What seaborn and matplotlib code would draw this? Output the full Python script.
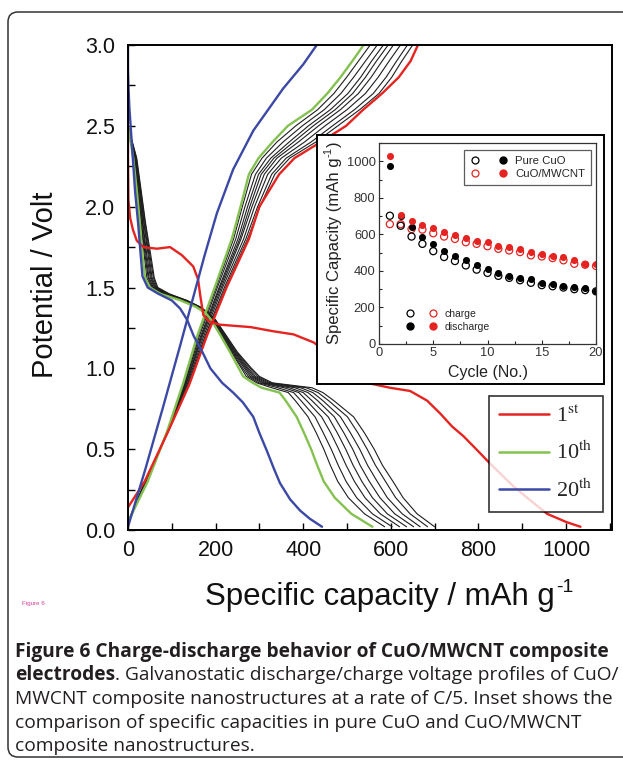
import matplotlib
matplotlib.use("Agg")
import matplotlib.pyplot as plt
import seaborn as sns
from matplotlib.patches import Rectangle, FancyBboxPatch
from matplotlib.lines import Line2D
from matplotlib.text import Annotation
from matplotlib.legend_handler import HandlerTuple
from matplotlib.ticker import MultipleLocator

# ------------------------------------------------------------------ data
# 1st cycle (red)
c1_dis_cap = [0, 0, 1, 5, 11, 20, 35, 66, 96, 123, 149, 160, 165, 172, 185, 210, 280, 330, 378, 424,
              469, 492, 515, 546, 598, 644, 683, 713, 740, 766, 795, 827, 880, 920, 957, 1000, 1033]
c1_dis_v = [2.52, 2.30, 2.04, 1.93, 1.86, 1.79, 1.75, 1.74, 1.75, 1.70, 1.63, 1.55, 1.45, 1.33, 1.29, 1.27,
            1.255, 1.23, 1.21, 1.16, 1.07, 1.01, 0.96, 0.91, 0.88, 0.86, 0.80, 0.72, 0.64, 0.58, 0.50,
            0.41, 0.27, 0.18, 0.10, 0.05, 0.02]
c1_chg_v = [0.14, 0.30, 0.60, 0.90, 1.20, 1.50, 1.80, 2.00, 2.20, 2.30, 2.40, 2.50, 2.60, 2.70, 2.80, 2.90, 3.00]
c1_chg_cap = [0, 38, 90, 140, 180, 225, 276, 300, 345, 380, 440, 498, 537, 580, 618, 645, 662]

# shared potential levels for cycles 2-10
dis_v = [2.50, 2.30, 2.10, 1.90, 1.70, 1.56, 1.50, 1.46, 1.42, 1.38, 1.34, 1.30, 1.20, 1.10,
         1.00, 0.95, 0.91, 0.88, 0.85, 0.80, 0.70, 0.60, 0.50, 0.40, 0.30, 0.20, 0.10, 0.02]
chg_v = [0.05, 0.30, 0.60, 0.90, 1.20, 1.50, 1.80, 2.00, 2.20, 2.30, 2.40, 2.50, 2.60, 2.70, 2.80, 2.90, 3.00]

# 10th cycle (green)
c10_dis_cap = [0, 12, 20, 27, 33, 39, 50, 75, 120, 155, 178, 190, 212, 233,
               253, 263, 285, 305, 346, 360, 385, 402, 418, 432, 447, 472, 510, 558]
c10_chg_cap = [0, 45, 88, 125, 158, 198, 237, 257, 276, 298, 330, 365, 420, 455, 485, 512, 538]

# cycles 2..9 (black)
black_dis_cap = [
    [0, 20, 30, 40, 52, 60, 68, 95, 135, 165, 185, 200, 225, 250, 282, 300, 330, 420, 445, 470, 515, 540, 562, 581, 605, 628, 660, 700],
    [0, 19, 29, 39, 50, 58, 66, 93, 133, 164, 184, 199, 224, 248, 279, 296, 325, 407, 434, 458, 501, 525, 546, 565, 588, 611, 644, 684],
    [0, 18, 28, 37, 48, 55, 64, 90, 132, 163, 183, 198, 222, 246, 275, 291, 320, 394, 422, 445, 485, 508, 529, 547, 569, 592, 626, 667],
    [0, 17, 27, 36, 46, 53, 62, 88, 130, 162, 183, 197, 221, 244, 272, 287, 315, 381, 411, 433, 471, 493, 513, 530, 551, 575, 609, 652],
    [0, 16, 26, 34, 43, 51, 60, 86, 128, 161, 182, 196, 219, 242, 269, 283, 310, 368, 400, 420, 457, 478, 497, 514, 534, 558, 592, 636],
    [0, 16, 24, 33, 41, 48, 58, 84, 127, 159, 181, 194, 218, 240, 266, 279, 305, 356, 390, 408, 442, 463, 481, 498, 517, 541, 576, 620],
    [0, 15, 23, 31, 39, 46, 56, 81, 125, 158, 180, 193, 216, 238, 262, 275, 299, 342, 378, 395, 427, 446, 464, 480, 498, 522, 558, 603],
    [0, 14, 22, 30, 37, 43, 54, 79, 123, 157, 179, 192, 215, 236, 259, 270, 294, 328, 366, 382, 411, 430, 447, 462, 479, 503, 540, 586],
]
black_chg_cap = [
    [0, 39, 90, 139, 178, 223, 273, 301, 335, 369, 429, 479, 529, 573, 602, 625, 650],
    [0, 39, 90, 137, 176, 220, 269, 296, 328, 361, 418, 467, 517, 560, 589, 613, 638],
    [0, 40, 89, 135, 173, 216, 264, 289, 319, 350, 403, 450, 500, 542, 571, 596, 622],
    [0, 41, 89, 133, 170, 213, 258, 283, 311, 340, 389, 435, 485, 526, 555, 580, 606],
    [0, 42, 89, 132, 168, 210, 255, 278, 304, 333, 378, 423, 473, 513, 542, 567, 594],
    [0, 42, 89, 130, 166, 208, 251, 273, 298, 326, 368, 412, 462, 502, 531, 556, 583],
    [0, 43, 88, 129, 163, 204, 246, 267, 291, 316, 354, 398, 448, 486, 515, 542, 569],
    [0, 44, 88, 127, 160, 201, 241, 261, 282, 306, 340, 383, 433, 470, 499, 526, 553],
]

# 20th cycle (blue)
c20_dis_cap = [0, 0, 1, 3, 6, 11, 16, 23, 29, 33, 45, 70, 100, 119, 135, 150, 170, 188, 215, 240,
               262, 286, 300, 317, 333, 347, 370, 393, 415, 443]
c20_dis_v = [3.00, 2.85, 2.75, 2.62, 2.50, 2.30, 2.10, 1.90, 1.70, 1.57, 1.50, 1.46, 1.42, 1.37, 1.30,
             1.20, 1.10, 1.00, 0.91, 0.85, 0.79, 0.70, 0.60, 0.49, 0.38, 0.29, 0.19, 0.12, 0.07, 0.02]
c20_chg_cap = [0, 40, 80, 120, 150, 175, 203, 240, 286, 354, 400, 431]
c20_chg_v = [0.02, 0.38, 0.76, 1.15, 1.45, 1.70, 1.96, 2.23, 2.47, 2.73, 2.88, 3.00]

legend_labels = [r"1$^{\mathrm{st}}$", r"10$^{\mathrm{th}}$", r"20$^{\mathrm{th}}$"]
x_ticks = [0, 200, 400, 600, 800, 1000]
x_tick_labels = ["0", "200", "400", "600", "800", "1000"]
y_ticks = [0.0, 0.5, 1.0, 1.5, 2.0, 2.5, 3.0]
y_tick_labels = ["0.0", "0.5", "1.0", "1.5", "2.0", "2.5", "3.0"]

# inset: specific capacity vs cycle
cycles = list(range(1, 21))
pure_chg = [702, 647, 588, 548, 508, 476, 454, 430, 407, 389, 373, 362, 349, 335, 322, 316, 309, 300, 295, 288]
pure_dis = [973, 700, 638, 588, 548, 508, 479, 458, 430, 412, 389, 373, 362, 353, 336, 327, 320, 313, 304, 291]
mwcnt_chg = [656, 656, 629, 626, 606, 588, 575, 557, 548, 535, 521, 512, 503, 485, 479, 470, 458, 439, 434, 427]
mwcnt_dis = [1027, 705, 671, 651, 635, 615, 599, 580, 562, 557, 535, 530, 521, 505, 490, 481, 474, 458, 439, 439]
inset_series = ["Pure CuO", "CuO/MWCNT"]
inset_kinds = ["charge", "discharge"]

caption_l1 = "Figure 6 Charge-discharge behavior of CuO/MWCNT composite"
caption_l2_bold = "electrodes"
caption_l2 = ". Galvanostatic discharge/charge voltage profiles of CuO/"
caption_l3 = "MWCNT composite nanostructures at a rate of C/5. Inset shows the"
caption_l4 = "comparison of specific capacities in pure CuO and CuO/MWCNT"
caption_l5 = "composite nanostructures."

# ------------------------------------------------------------------ style
sns.set_style("ticks")
plt.rcParams["font.family"] = ["Liberation Sans", "DejaVu Sans"]
plt.rcParams["mathtext.fontset"] = "stix"

RED, GREEN, BLUE, BLACK = "#e52421", "#84c150", "#3b48a5", "#1e1e1e"
TXT = "#111111"

W, H = 623, 761
fig = plt.figure(figsize=(W / 100, H / 100), dpi=100)


def fx(px):
    return px / W


def fy(py):
    return 1 - py / H


# background (pixel coordinates) for frame and caption
bg = fig.add_axes([0, 0, 1, 1], zorder=-5)
bg.set_xlim(0, W)
bg.set_ylim(H, 0)
bg.axis("off")
bg.add_patch(FancyBboxPatch((8, 12), 660, 745, boxstyle="round,pad=0,rounding_size=10",
                            fc="none", ec="#333333", lw=1.1))

# ------------------------------------------------------------------ main axes
ax = fig.add_axes([fx(128), fy(530), (612 - 128) / W, (530 - 45) / H], zorder=0)

for cap, chg in zip(black_dis_cap, black_chg_cap):
    sns.lineplot(x=cap, y=dis_v, sort=False, estimator=None, color=BLACK, lw=0.8, ax=ax)
    sns.lineplot(x=chg, y=chg_v, sort=False, estimator=None, color=BLACK, lw=0.8, ax=ax)

sns.lineplot(x=c10_dis_cap, y=dis_v, sort=False, estimator=None, color=GREEN, lw=1.7, ax=ax)
sns.lineplot(x=c10_chg_cap, y=chg_v, sort=False, estimator=None, color=GREEN, lw=1.7, ax=ax)
sns.lineplot(x=c1_dis_cap, y=c1_dis_v, sort=False, estimator=None, color=RED, lw=1.7, ax=ax)
sns.lineplot(x=c1_chg_cap, y=c1_chg_v, sort=False, estimator=None, color=RED, lw=1.7, ax=ax)
sns.lineplot(x=c20_dis_cap, y=c20_dis_v, sort=False, estimator=None, color=BLUE, lw=1.7, ax=ax)
sns.lineplot(x=c20_chg_cap, y=c20_chg_v, sort=False, estimator=None, color=BLUE, lw=1.7, ax=ax)

ax.set_xlim(0, 1105)
ax.set_ylim(0, 3.0)
ax.set_xticks(x_ticks, x_tick_labels)
ax.set_yticks(y_ticks, y_tick_labels)
ax.xaxis.set_minor_locator(MultipleLocator(100))
ax.yaxis.set_minor_locator(MultipleLocator(0.25))
ax.tick_params(which="both", direction="in", length=5, width=1, top=False, right=False, colors="black")
ax.tick_params(axis="x", which="major", labelsize=15.5, pad=7, labelcolor=TXT)
ax.tick_params(axis="y", which="major", labelsize=15.5, pad=9, labelcolor=TXT)
ax.set_xlabel("")
ax.set_ylabel("")
for s in ax.spines.values():
    s.set_linewidth(1.4)
    s.set_color("black")

fig.text(fx(45), fy(285), "Potential / Volt", rotation=90, ha="center", va="center",
         fontsize=21, color=TXT)
xl = fig.text(fx(205), fy(605), "Specific capacity / mAh g", ha="left", va="baseline",
              fontsize=22.5, color=TXT)
fig.add_artist(Annotation("-1", xy=(1, 1), xycoords=xl, ha="left", va="top", fontsize=14, color=TXT,
                          xytext=(1, 2), textcoords="offset points"))

main_handles = [Line2D([], [], color=c, lw=1.8) for c in (RED, GREEN, BLUE)]
leg = ax.legend(main_handles, legend_labels, loc="lower right", bbox_to_anchor=(0.981, 0.037),
                borderaxespad=0, prop={"family": "Liberation Serif", "size": 16}, frameon=True,
                fancybox=False, edgecolor="black", handlelength=2.25, handletextpad=0.35,
                labelspacing=0.68, borderpad=0.45)
leg.get_frame().set_linewidth(1.2)

# ------------------------------------------------------------------ inset
frame = Rectangle((fx(317), fy(384)), (604 - 317) / W, (384 - 135) / H, transform=fig.transFigure,
                  fc="white", ec="black", lw=1.4, zorder=1)
fig.add_artist(frame)

ins = fig.add_axes([fx(379), fy(344), (596 - 379) / W, (344 - 143) / H], zorder=2)
sns.scatterplot(x=cycles, y=mwcnt_chg, marker="o", s=26, facecolors="none", edgecolor=RED, linewidth=0.9, ax=ins)
sns.scatterplot(x=cycles, y=pure_chg, marker="o", s=26, facecolors="none", edgecolor="black", linewidth=0.9, ax=ins)
sns.scatterplot(x=cycles, y=pure_dis, marker="o", s=26, color="black", linewidth=0, ax=ins)
sns.scatterplot(x=cycles, y=mwcnt_dis, marker="o", s=26, color=RED, linewidth=0, ax=ins)

ins.set_xlim(0, 20)
ins.set_ylim(0, 1100)
ins.xaxis.set_major_locator(MultipleLocator(5))
ins.xaxis.set_minor_locator(MultipleLocator(2.5))
ins.yaxis.set_major_locator(MultipleLocator(200))
ins.yaxis.set_minor_locator(MultipleLocator(100))
ins.tick_params(which="both", direction="in", top=False, right=False, width=0.8)
ins.tick_params(which="major", length=3, labelsize=9.3, labelcolor="#333333", pad=2.5)
ins.tick_params(which="minor", length=2)
for s in ins.spines.values():
    s.set_linewidth(0.9)
    s.set_color("#333333")
ins.set_xlabel("Cycle (No.)", fontsize=11.5, labelpad=4, color="#222222")
ins.set_ylabel("")

YL_FS = 12.0
yl = fig.text(fx(334), fy(344), "Specific Capacity (mAh g", rotation=90, ha="center", va="bottom",
              fontsize=YL_FS, color="#222222", zorder=3)
sup = Annotation("-1", xy=(0, 1), xycoords=yl, ha="left", va="bottom", rotation=90, fontsize=8,
                 color="#222222", xytext=(-2, 0.5), textcoords="offset points", zorder=3)
fig.add_artist(sup)
fig.add_artist(Annotation(")", xy=(0, 1), xycoords=(yl, sup), ha="left", va="bottom", rotation=90,
                          fontsize=YL_FS, color="#222222", zorder=3))

h_ok = Line2D([], [], ls="none", marker="o", mfc="none", mec="black", ms=5, mew=0.9)
h_fk = Line2D([], [], ls="none", marker="o", mfc="black", mec="black", ms=5)
h_or = Line2D([], [], ls="none", marker="o", mfc="none", mec=RED, ms=5, mew=0.9)
h_fr = Line2D([], [], ls="none", marker="o", mfc=RED, mec=RED, ms=5)
leg1 = ins.legend([(h_ok, h_fk), (h_or, h_fr)], inset_series,
                  handler_map={tuple: HandlerTuple(ndivide=None, pad=1.4)},
                  loc="upper right", bbox_to_anchor=(0.977, 0.965), borderaxespad=0, fontsize=8.2,
                  frameon=True, fancybox=False, edgecolor="#333333", handlelength=3.4,
                  handletextpad=0.6, labelspacing=0.3, borderpad=0.5)
leg1.get_frame().set_linewidth(0.9)
ins.add_artist(leg1)
ins.legend([(h_ok, h_or), (h_fk, h_fr)], inset_kinds,
           handler_map={tuple: HandlerTuple(ndivide=None, pad=1.2)},
           loc="lower left", bbox_to_anchor=(0.10, 0.04), borderaxespad=0, fontsize=7.5,
           frameon=False, handlelength=3.2, handletextpad=0.6, labelspacing=0.3)

# ------------------------------------------------------------------ caption
CAP_FS = 13.8
cap_font = ["Open Sans", "DejaVu Sans"]
cap_kw = dict(fontsize=CAP_FS, color="#231f20", family=cap_font, va="baseline", ha="left")
bg.text(22, 604, "Figure 6", fontsize=4.5, color="#d63f9c", va="center", ha="left")
bg.text(15, 657, caption_l1, weight="bold", **cap_kw)
t2 = bg.text(15, 680.5, caption_l2_bold, weight="bold", **cap_kw)
bg.annotate(caption_l2, xy=(1, 680.5), xycoords=(t2, "data"), va="baseline", ha="left",
            fontsize=CAP_FS, color="#231f20", family=cap_font)
bg.text(15, 704, caption_l3, **cap_kw)
bg.text(15, 727.5, caption_l4, **cap_kw)
bg.text(15, 751, caption_l5, **cap_kw)

fig.savefig("out.png", dpi=100)
